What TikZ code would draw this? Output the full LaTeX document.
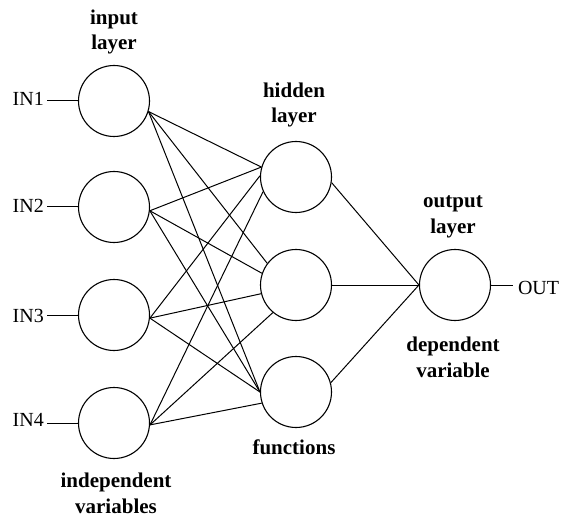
\documentclass[tikz,border=0pt]{standalone}
\usepackage{fontspec}
\setmainfont{Liberation Serif}
\begin{document}
\begin{tikzpicture}[x=1bp,y=-1bp,
  neuron/.style={circle,draw,line width=1.1bp,minimum size=71bp,inner sep=0pt},
  wire/.style={line width=1bp},
  caption/.style={font=\fontsize{21bp}{25.5bp}\selectfont\bfseries,align=center,anchor=base,inner sep=0pt},
  iolabel/.style={font=\fontsize{20bp}{24bp}\selectfont,inner ysep=0pt,outer sep=0pt}]
\useasboundingbox (0,0) rectangle (563,519);

% input layer
\node[neuron] (in1) at (114,101) {};
\node[neuron] (in2) at (114,207) {};
\node[neuron] (in3) at (114,315) {};
\node[neuron] (in4) at (114,423) {};

% hidden layer
\node[neuron] (h1) at (296,177) {};
\node[neuron] (h2) at (296,285) {};
\node[neuron] (h3) at (296,392) {};

% output layer
\node[neuron] (out) at (455,285) {};

% input labels and their leads
\node[iolabel,inner xsep=3.3bp,anchor=base west] (lin1) at (9.4,106) {IN1};
\node[iolabel,inner xsep=3.3bp,anchor=base west] (lin2) at (9.4,213) {IN2};
\node[iolabel,inner xsep=3.3bp,anchor=base west] (lin3) at (9.4,322) {IN3};
\node[iolabel,inner xsep=3.3bp,anchor=base west] (lin4) at (9.4,426) {IN4};
\foreach \i in {1,2,3,4}
  \draw[wire] (in\i.west) -- (in\i.west -| lin\i.east);

% output label and lead
\node[iolabel,inner xsep=5.5bp,anchor=base west] (lout) at (512.5,294) {OUT};
\draw[wire] (out.east) -- (out.east -| lout.west);

% input -> hidden
\draw[wire] (in1.-17) -- (h1.164);
\draw[wire] (in1.-17) -- (h2.143);
\draw[wire] (in1.-17) -- (h3.180);
\draw[wire] (in2.-6) -- (h1.164);
\draw[wire] (in2.-6) -- (h2.161);
\draw[wire] (in2.-6) -- (h3.180);
\draw[wire] (in3.-5) -- (h1.178);
\draw[wire] (in3.-5) -- (h2.194);
\draw[wire] (in3.-5) -- (h3.180);
\draw[wire] (in4.-3) -- (h1.204);
\draw[wire] (in4.-3) -- (h2.230);
\draw[wire] (in4.-3) -- (h3.198);

% hidden -> output
\draw[wire] (h1.-9.5) -- (out.west);
\draw[wire] (h2.east) -- (out.west);
\draw[wire] (h3.15) -- (out.west);

% layer captions (anchored at the baseline of the last line)
\node[caption] (capin) at (114,50) {input\\layer};
\node[caption] (caphid) at (294,123) {hidden\\layer};
\node[caption] (capout) at (453,233) {output\\layer};
\node[caption] (capdep) at (453,377) {dependent\\variable};
\node[caption] (capfun) at (294,454) {functions};
\node[caption] (capind) at (116,513) {independent\\variables};
\end{tikzpicture}
\end{document}
